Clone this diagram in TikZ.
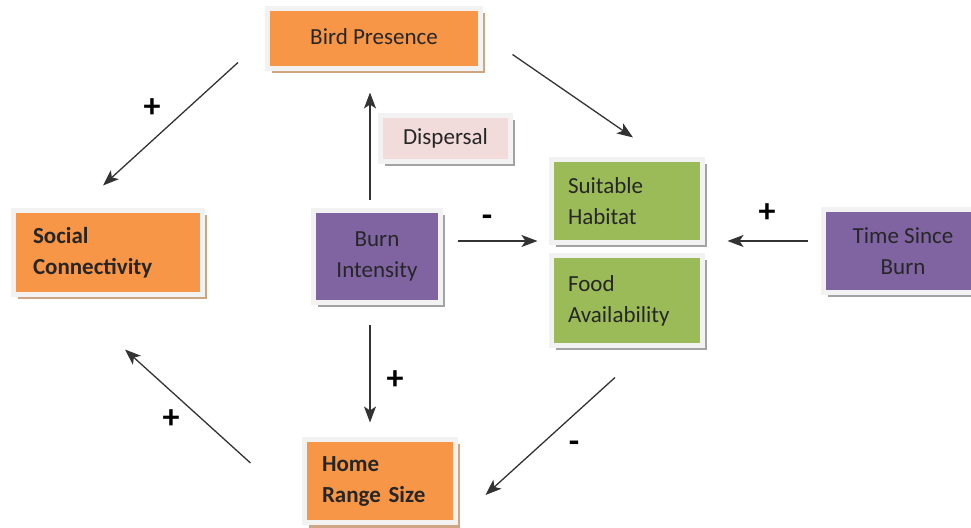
\documentclass[tikz,border=0pt]{standalone}
\usepackage{fontspec}
\setmainfont{Carlito}
\usetikzlibrary{arrows.meta,shadows}
\definecolor{boxorange}{HTML}{F79646}
\definecolor{boxgreen}{HTML}{9BBB59}
\definecolor{boxpurple}{HTML}{8064A2}
\definecolor{boxpink}{HTML}{F2DCDB}
\definecolor{framegray}{HTML}{F2F2F2}
\definecolor{tanshadow}{HTML}{CFA684}
\definecolor{grayshadow}{HTML}{A3A3A3}

\begin{document}
\begin{tikzpicture}[x=1pt,y=1pt,
    box/.style={draw=framegray, line width=5pt, inner sep=0pt,
        font=\fontsize{23}{31}\selectfont, text=black!85},
    boxshadow/.style={drop shadow={shadow xshift=4pt, shadow yshift=-5pt, fill=#1, opacity=1}},
    arr/.style={-{Stealth[length=16pt,width=12pt,inset=4pt]}, line width=1.3pt, draw=black!80},
    sign/.style={font=\fontsize{34}{34}\selectfont\bfseries}]
    \useasboundingbox (0,0) rectangle (971,527);
    % boxes
    \node[box, fill=boxorange, boxshadow=tanshadow, minimum width=213, minimum height=60] (bird) at (374,488.5) {Bird Presence\vphantom{y}};
    \node[box, fill=boxorange, boxshadow=tanshadow, minimum width=189, minimum height=84,
        text width=150, align=left, font=\fontsize{23}{31}\selectfont\bfseries] (social) at (108,274.5) {Social\\Connectivity};
    \node[box, fill=boxpurple, boxshadow=grayshadow, minimum width=127, minimum height=92, align=center] (burn) at (377,270.5) {Burn\\Intensity};
    \node[box, fill=boxgreen, boxshadow=grayshadow, minimum width=151, minimum height=83,
        text width=118, align=left] (habitat) at (627,326) {Suitable\\Habitat};
    \node[box, fill=boxgreen, boxshadow=grayshadow, minimum width=151, minimum height=90,
        text width=118, align=left] (food) at (627,226.5) {Food\\Availability};
    \node[box, fill=boxpurple, boxshadow=grayshadow, minimum width=159, minimum height=83, align=center] (time) at (903,276) {Time Since\\Burn};
    \node[box, fill=boxorange, boxshadow=tanshadow, minimum width=151, minimum height=83,
        text width=116, align=left, font=\fontsize{23}{31}\selectfont\bfseries] (home) at (380,46) {Home\\Range Size};
    \node[box, fill=boxpink, boxshadow=grayshadow, minimum width=130, minimum height=46] (dispersal) at (445.5,388.5) {Dispersal};
    % arrows
    \draw[arr] ([xshift=-136pt,yshift=8.5pt]bird.south) -- ([xshift=-5pt,yshift=22.5pt]social.north);
    \draw[arr] ([xshift=29.5pt,yshift=16.5pt]bird.south east) -- ([xshift=6pt,yshift=19.5pt]habitat.north);
    \draw[arr] ([xshift=-7pt,yshift=7.5pt]burn.north) -- ([xshift=-4pt,yshift=-21.5pt]bird.south);
    \draw[arr] ([xshift=14.5pt,yshift=15.5pt]burn.east) -- ([xshift=-11.5pt,yshift=-40pt]habitat.west);
    \draw[arr] ([xshift=-13.5pt,yshift=10pt]time.west) -- ([xshift=22.5pt,yshift=-40pt]habitat.east);
    \draw[arr] ([xshift=-7pt,yshift=-20.5pt]burn.south) -- ([xshift=-10pt,yshift=14.5pt]home.north);
    \draw[arr] ([xshift=-12pt,yshift=-29.5pt]food.south) -- ([xshift=27.5pt,yshift=-14pt]home.east);
    \draw[arr] ([xshift=-51.5pt,yshift=18pt]home.west) -- ([xshift=17pt,yshift=-52.5pt]social.south);
    % signs
    \node[sign] (plus_bs) at (152,419) {+};
    \node[sign] (minus_bh) at (487,306) {-};
    \node[sign] (plus_th) at (767,314) {+};
    \node[sign] (plus_bh) at (395,147) {+};
    \node[sign] (minus_fh) at (574,80) {-};
    \node[sign] (plus_hs) at (171,108) {+};
\end{tikzpicture}
\end{document}
